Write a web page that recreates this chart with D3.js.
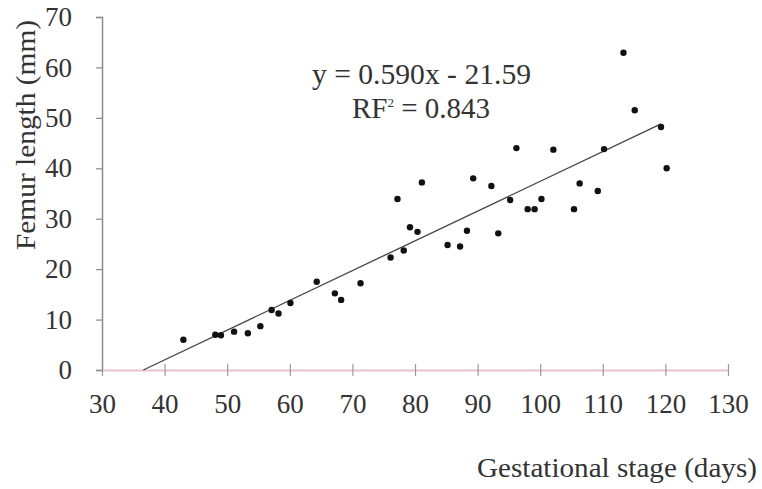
<!DOCTYPE html>
<html>
<head>
<meta charset="utf-8">
<script src="https://cdn.jsdelivr.net/npm/d3@7"></script>
<style>
  body { margin: 0; background: #fff; }
  text { font-family: "Liberation Serif", "Times New Roman", serif; fill: #333; }
</style>
</head>
<body>
<div id="chart"></div>
<script>
const svgWidth = 762;
const svgHeight = 489;

// gestational stage (days) and femur length (mm)
const days = [43, 48.1, 49, 51.1, 53.3, 55.3, 57.1, 58.2, 60.1, 64.3, 67.2, 68.2, 71.3,
    76.1, 77.2, 78.2, 79.2, 80.4, 81.1, 85.2, 87.2, 88.3, 89.3, 92.2, 93.3, 95.2, 96.2,
    98, 99.1, 100.2, 102.1, 105.4, 106.3, 109.2, 110.2, 113.3, 115.1, 119.3, 120.2];
const femur = [6, 7.0, 6.9, 7.6, 7.3, 8.7, 11.9, 11.2, 13.3, 17.5, 15.2, 13.9, 17.2,
    22.3, 33.9, 23.7, 28.3, 27.4, 37.2, 24.8, 24.5, 27.6, 38.0, 36.5, 27.1, 33.7, 44.0,
    31.9, 31.9, 33.9, 43.7, 31.9, 37.0, 35.5, 43.8, 62.9, 51.5, 48.2, 40.0];

const xTicks = [30, 40, 50, 60, 70, 80, 90, 100, 110, 120, 130];
const yTicks = [0, 10, 20, 30, 40, 50, 60, 70];

const slope = 0.590;
const intercept = -21.59;
const trendRange = [-intercept / slope, 119.3];

const x = d3.scaleLinear().domain([30, 130]).range([102, 728]);
const y = d3.scaleLinear().domain([0, 70]).range([370, 17]);

const svg = d3.select('#chart')
    .append('svg')
    .attr('width', svgWidth)
    .attr('height', svgHeight);

// y axis
const yAxis = svg.append('g')
    .attr('transform', `translate(${x(30)},0)`)
    .call(d3.axisLeft(y).tickValues(yTicks).tickSize(6).tickPadding(24).tickFormat(d3.format('d')));
yAxis.select('.domain').attr('stroke', '#8a8a8a').attr('stroke-width', 1.5);
yAxis.selectAll('.tick line').attr('stroke', '#8a8a8a').attr('stroke-width', 1.2);
yAxis.selectAll('.tick text')
    .style('font-size', '27px')
    .style('font-family', '"Liberation Serif", serif')
    .attr('fill', '#444');

// x axis (ticks crossing the line)
const xAxis = svg.append('g')
    .attr('transform', `translate(0,${y(0)})`)
    .call(d3.axisBottom(x).tickValues(xTicks).tickSizeInner(6).tickSizeOuter(0).tickPadding(18).tickFormat(d3.format('d')));
xAxis.select('.domain').attr('stroke', '#e6c3c9').attr('stroke-width', 2);
xAxis.selectAll('.tick line').attr('y1', -6).attr('stroke', '#9a9a9a').attr('stroke-width', 1.2);
xAxis.selectAll('.tick text')
    .style('font-size', '27px')
    .style('font-family', '"Liberation Serif", serif')
    .attr('fill', '#444');

// trend line
svg.append('line')
    .attr('x1', x(trendRange[0]))
    .attr('y1', y(slope * trendRange[0] + intercept))
    .attr('x2', x(trendRange[1]))
    .attr('y2', y(slope * trendRange[1] + intercept))
    .attr('stroke', '#444')
    .attr('stroke-width', 1.3);

// points
svg.append('g').selectAll('circle')
    .data(days.map((d, i) => [d, femur[i]]))
    .join('circle')
    .attr('cx', d => x(d[0]))
    .attr('cy', d => y(d[1]))
    .attr('r', 3.2)
    .attr('fill', '#111');

// equation
svg.append('text')
    .attr('x', 421.5).attr('y', 84)
    .attr('text-anchor', 'middle')
    .attr('textLength', 219)
    .attr('lengthAdjust', 'spacingAndGlyphs')
    .style('font-size', '29px')
    .text('y = 0.590x - 21.59');

const r2 = svg.append('text')
    .attr('x', 421).attr('y', 118)
    .attr('text-anchor', 'middle')
    .style('font-size', '29px');
r2.append('tspan').text('RF');
r2.append('tspan').attr('dy', -11).style('font-size', '13px').text('2');
r2.append('tspan').attr('dy', 11).text(' = 0.843');

// axis titles
svg.append('text')
    .attr('transform', 'translate(35,135) rotate(-90)')
    .attr('text-anchor', 'middle')
    .attr('textLength', 230)
    .attr('lengthAdjust', 'spacingAndGlyphs')
    .style('font-size', '28px')
    .text('Femur length (mm)');

svg.append('text')
    .attr('x', 757).attr('y', 477)
    .attr('text-anchor', 'end')
    .attr('textLength', 280)
    .attr('lengthAdjust', 'spacingAndGlyphs')
    .style('font-size', '27px')
    .text('Gestational stage (days)');
</script>
</body>
</html>
